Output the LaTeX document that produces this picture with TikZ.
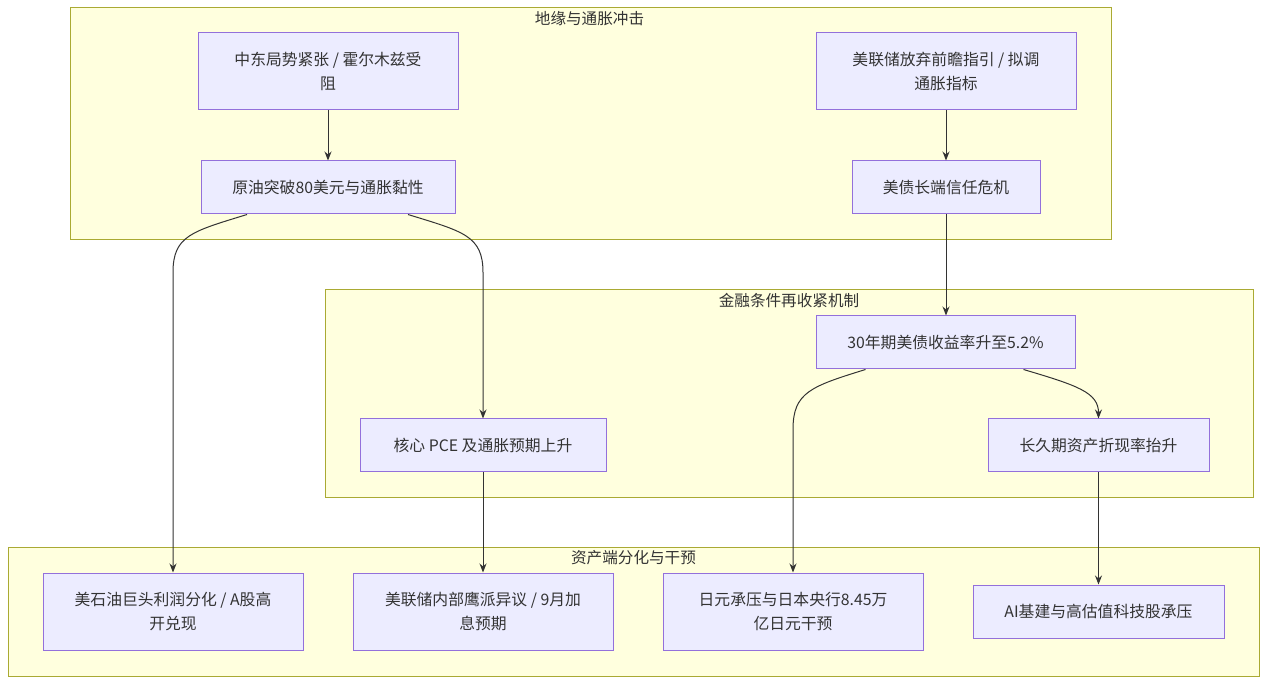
\documentclass[tikz,border=0pt]{standalone}
\usepackage{fontspec}
\setmainfont{Noto Sans CJK SC}
\usetikzlibrary{arrows.meta,calc}
\definecolor{clfill}{HTML}{FFFFDE}
\definecolor{cldraw}{HTML}{AAAA33}
\definecolor{ndfill}{HTML}{ECECFF}
\definecolor{nddraw}{HTML}{9370DB}
\definecolor{txt}{HTML}{333333}
\tikzset{
  cluster/.style={draw=cldraw, fill=clfill, line width=1pt, inner sep=0pt},
  cltitle/.style={text=txt, inner sep=0pt, font=\fontsize{15.6}{18}\selectfont},
  box/.style={draw=nddraw, fill=ndfill, line width=1pt, inner sep=0pt, align=center, text=txt,
    font=\fontsize{15.8}{24}\selectfont},
  edge/.style={draw=txt, line width=1pt, -{Stealth[length=9pt,width=7pt]}},
}
\begin{document}
\begin{tikzpicture}[x=1pt,y=-1pt]
\useasboundingbox (0,0) rectangle (1267,684);
\fill[white] (0,0) rectangle (1267,684);
% clusters
\node[cluster, minimum width=1041pt, minimum height=232pt] (c1) at (590.5,124) {};
\node[cltitle] (t1) at (589.5,19) {地缘与通胀冲击};
\node[cluster, minimum width=928pt, minimum height=207pt] (c2) at (789,393.5) {};
\node[cltitle] (t2) at (789,301) {金融条件再收紧机制};
\node[cluster, minimum width=1251pt, minimum height=129pt] (c3) at (633.5,611.5) {};
\node[cltitle] (t3) at (633.5,558) {资产端分化与干预};
% nodes
\node[box, minimum width=260pt, minimum height=77pt] (A) at (328,71.5) {中东局势紧张 / 霍尔木兹受\\阻};
\node[box, minimum width=254pt, minimum height=53pt] (B) at (328,187.5) {原油突破80美元与通胀黏性};
\node[box, minimum width=260pt, minimum height=77pt] (C) at (946,71.5) {美联储放弃前瞻指引 / 拟调\\通胀指标};
\node[box, minimum width=188pt, minimum height=53pt] (D) at (946,187.5) {美债长端信任危机};
\node[box, minimum width=259pt, minimum height=53pt] (E) at (945.5,342.5) {30年期美债收益率升至5.2\%};
\node[box, minimum width=246pt, minimum height=53pt] (F) at (483,445.5) {核心 PCE 及通胀预期上升};
\node[box, minimum width=221pt, minimum height=53pt] (G) at (1098.5,445.5) {长久期资产折现率抬升};
\node[box, minimum width=260pt, minimum height=77pt] (H) at (173,611.5) {美石油巨头利润分化 / A股高\\开兑现};
\node[box, minimum width=260pt, minimum height=77pt] (I) at (483,611.5) {美联储内部鹰派异议 / 9月加\\息预期};
\node[box, minimum width=260pt, minimum height=77pt] (J) at (793,611.5) {日元承压与日本央行8.45万\\亿日元干预};
\node[box, minimum width=251pt, minimum height=53pt] (K) at (1098.5,611.5) {AI基建与高估值科技股承压};
% edges
\draw[edge] (A) -- (B);
\draw[edge] (C) -- (D);
\draw[edge] (D) -- (D |- E.north);
\draw[edge] ($(B.south)+(-81,0)$) .. controls ($(B.south)+(-136,17)$) and ($(H.north)+(0,-337)$) .. ($(H.north)+(0,-300)$) -- (H.north);
\draw[edge] ($(B.south)+(80,0)$) .. controls ($(B.south)+(135,17)$) and ($(F.north)+(0,-183)$) .. ($(F.north)+(0,-146)$) -- (F.north);
\draw[edge] ($(E.south)+(-80,0)$) .. controls ($(E.south)+(-135,17)$) and ($(J.north)+(0,-180)$) .. ($(J.north)+(0,-143)$) -- (J.north);
\draw[edge] ($(E.south)+(78,0)$) .. controls ($(E.south)+(132,16)$) and ($(G.north)+(0,-26)$) .. (G.north);
\draw[edge] (I.north |- F.south) -- (I.north);
\draw[edge] (G) -- (K);
\end{tikzpicture}
\end{document}
